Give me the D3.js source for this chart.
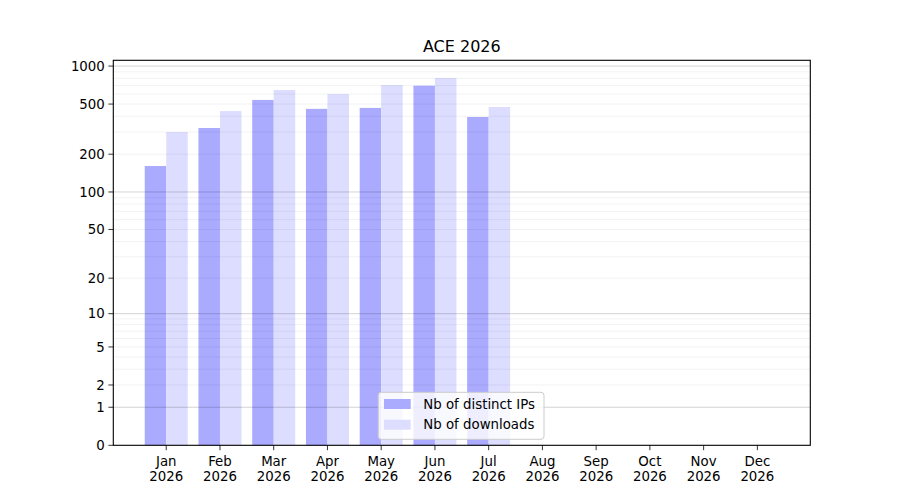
<!DOCTYPE html>
<html><head><meta charset="utf-8">
<script src="https://cdn.jsdelivr.net/npm/d3@7"></script>
<style>body{margin:0;background:#fff}svg{font-family:"DejaVu Sans",sans-serif}</style>
</head><body><div id="c"></div>
<script>
const months = ["Jan","Feb","Mar","Apr","May","Jun","Jul","Aug","Sep","Oct","Nov","Dec"];
const yearLabel = "2026";
const ipValues = [161, 323, 539, 458, 466, 699, 395, null, null, null, null, null];
const dlValues = [300, 440, 646, 601, 708, 805, 474, null, null, null, null, null];
const yTicks = [0, 1, 2, 5, 10, 20, 50, 100, 200, 500, 1000];
const title = "ACE 2026";
const seriesNames = ["Nb of distinct IPs", "Nb of downloads"];

const W = 900, H = 500;
const m = {left: 113.3, right: 810.3, top: 60.3, bottom: 445.3};
const svg = d3.select("#c").append("svg").attr("width", W).attr("height", H);

const x = d3.scaleLinear().domain([-0.985, 11.985]).range([m.left, m.right]);
const f = v => Math.log10(1 + v);
const yl = d3.scaleLinear().domain([0, f(1111)]).range([m.bottom, m.top]);
const y = v => yl(f(v));
const bw = x(0.4) - x(0);

// bars
const colors = ["#aaaaff", "#ddddff"];
[ipValues, dlValues].forEach((vals, s) => {
  svg.append("g").selectAll("rect").data(vals.map((v, i) => ({v, i})).filter(d => d.v != null))
    .join("rect")
    .attr("x", d => s === 0 ? x(d.i) - bw : x(d.i))
    .attr("width", bw)
    .attr("y", d => y(d.v))
    .attr("height", d => m.bottom - y(d.v))
    .attr("fill", colors[s]);
});

// grid
const minor = [];
[1, 10, 100].forEach(dec => { for (let k = 2; k <= 9; k++) minor.push(k * dec); });
const major = [1, 10, 100, 1000];
const g = svg.append("g");
g.selectAll("line.mi").data(minor).join("line")
  .attr("x1", m.left).attr("x2", m.right).attr("y1", d => y(d)).attr("y2", d => y(d))
  .attr("stroke", "#000").attr("stroke-opacity", 0.07).attr("stroke-width", 0.8);
g.selectAll("line.ma").data(major).join("line")
  .attr("x1", m.left).attr("x2", m.right).attr("y1", d => y(d)).attr("y2", d => y(d))
  .attr("stroke", "#000").attr("stroke-opacity", 0.22).attr("stroke-width", 0.8);

// frame
svg.append("rect").attr("x", m.left).attr("y", m.top)
  .attr("width", m.right - m.left).attr("height", m.bottom - m.top)
  .attr("fill", "none").attr("stroke", "#000").attr("stroke-width", 1.1);

// y axis
const ya = svg.append("g");
ya.selectAll("line").data(yTicks).join("line")
  .attr("x1", m.left - 4.9).attr("x2", m.left).attr("y1", d => y(d)).attr("y2", d => y(d))
  .attr("stroke", "#000").attr("stroke-width", 0.8);
ya.selectAll("text").data(yTicks).join("text")
  .attr("x", m.left - 8.5).attr("y", d => y(d)).attr("dy", "0.35em")
  .attr("text-anchor", "end").attr("font-size", "13.33px").attr("fill", "#000")
  .text(d => d);

// x axis
const xa = svg.append("g");
xa.selectAll("line").data(months).join("line")
  .attr("x1", (d, i) => x(i)).attr("x2", (d, i) => x(i))
  .attr("y1", m.bottom).attr("y2", m.bottom + 4.9)
  .attr("stroke", "#000").attr("stroke-width", 0.8);
const xt = xa.selectAll("text").data(months).join("text")
  .attr("x", (d, i) => x(i)).attr("y", m.bottom + 20.5)
  .attr("text-anchor", "middle").attr("font-size", "13.33px").attr("fill", "#000");
xt.append("tspan").attr("x", (d, i) => x(i)).text(d => d);
xt.append("tspan").attr("x", (d, i) => x(i)).attr("dy", 15.5).text(yearLabel);

// title
svg.append("text").attr("x", (m.left + m.right) / 2).attr("y", 52)
  .attr("text-anchor", "middle").attr("font-size", "16px").attr("fill", "#000").text(title);

// legend
const lg = svg.append("g");
lg.append("rect").attr("x", 378.3).attr("y", 392.3).attr("width", 165.7).attr("height", 47)
  .attr("rx", 3).attr("fill", "#fff").attr("fill-opacity", 0.8)
  .attr("stroke", "#cccccc").attr("stroke-width", 1);
seriesNames.forEach((n, i) => {
  lg.append("rect").attr("x", 384).attr("y", 399 + i * 20.7).attr("width", 26.7).attr("height", 10)
    .attr("fill", colors[i]);
  lg.append("text").attr("x", 423.3).attr("y", 404 + i * 20.7).attr("dy", "0.35em")
    .attr("font-size", "13.33px").attr("fill", "#000").text(n);
});
</script></body></html>
